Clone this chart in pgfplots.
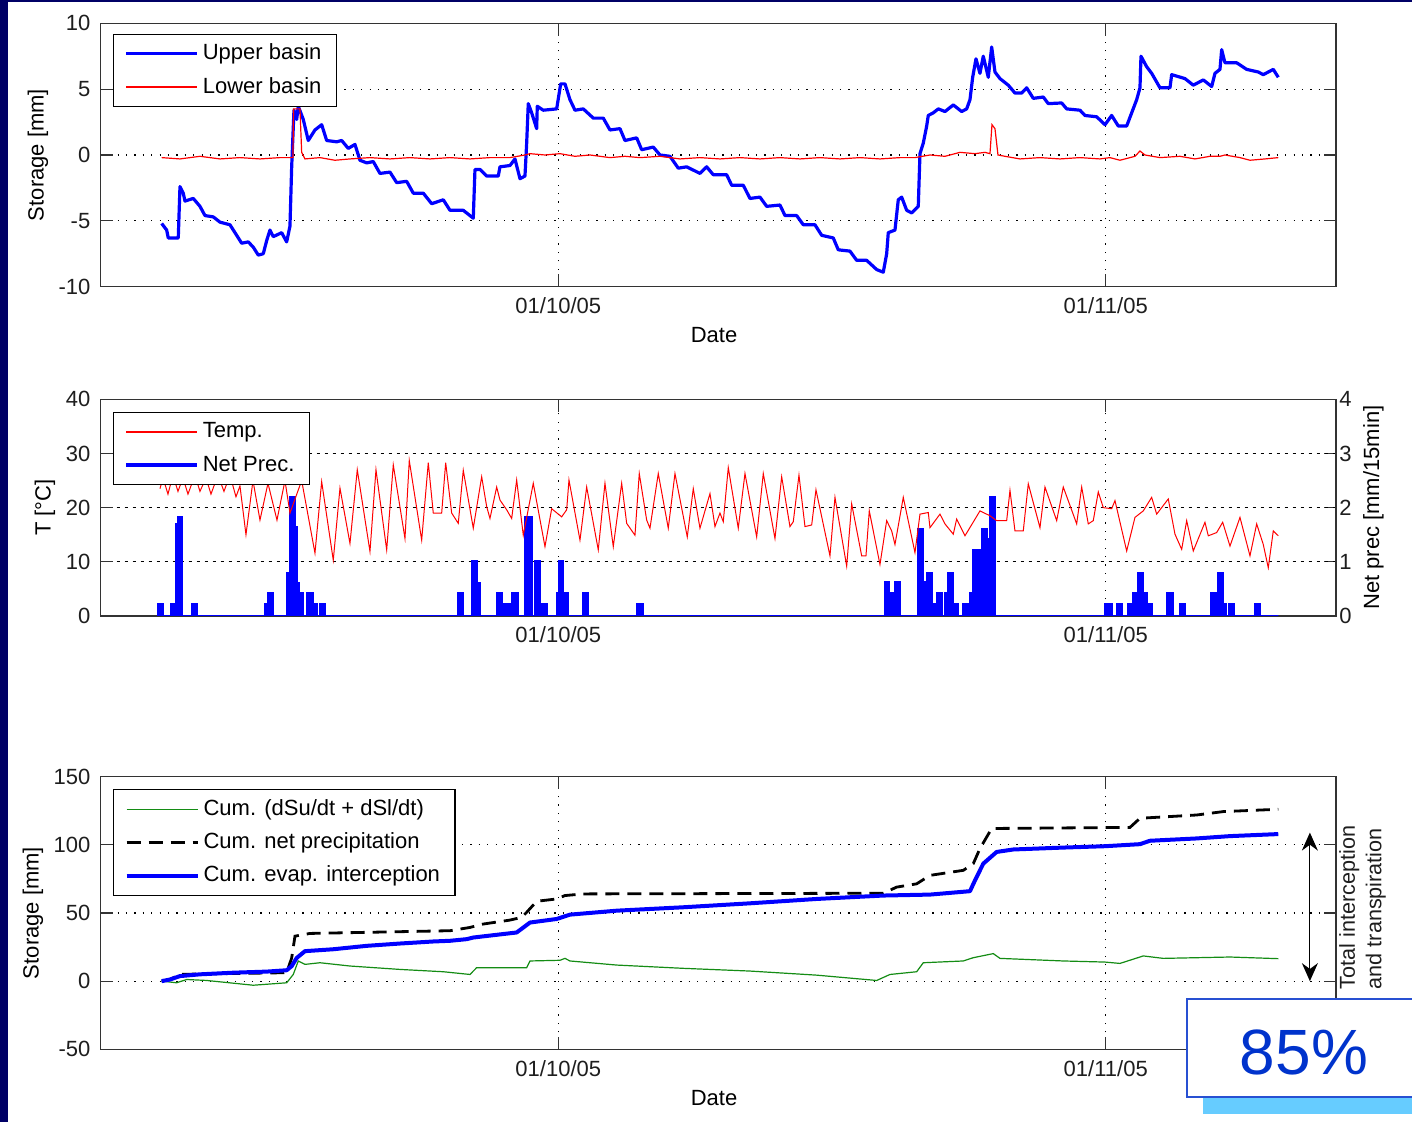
\documentclass[border=0pt]{standalone}
\usepackage{pgfplots}
\pgfplotsset{compat=1.18}
\usepackage{pgfplotstable}
\usepackage{fontspec}
\setmainfont{Liberation Sans}
\usetikzlibrary{arrows.meta}

\definecolor{navy}{RGB}{0,0,102}
\definecolor{mgreen}{RGB}{20,140,20}
\definecolor{txt}{RGB}{30,30,30}
\definecolor{pctblue}{RGB}{0,51,204}
\definecolor{boxblue}{RGB}{40,80,210}
\definecolor{shadowblue}{RGB}{102,204,255}

% x column: horizontal position (pixels), converted to days from 1 Oct 2005
\pgfplotstableread{
px v
161.7 -5.2
166.7 -5.7
168.3 -6.3
178.3 -6.3
180 -2.4
183.3 -2.9
185 -3.5
193.3 -3.3
200 -3.9
205 -4.6
213.3 -4.7
220 -5.1
230 -5.3
236.7 -6.1
241.7 -6.7
248.3 -6.6
253.3 -7.0
258.3 -7.6
263.3 -7.5
266.7 -6.5
270 -5.7
273.3 -6.2
281.7 -5.9
286.7 -6.6
290 -5.4
291.7 -0.9
294 3.4
296.7 2.7
298.3 3.7
303.3 2.7
308.3 1.1
315 1.9
321.7 2.3
326.7 1.1
336.7 1.0
341.7 1.1
348.3 0.5
355 0.8
360 -0.4
366.7 -0.6
373.3 -0.5
380 -1.4
390 -1.3
396.7 -2.1
406.7 -2.0
413.3 -2.9
423.3 -2.9
431.7 -3.7
443.3 -3.4
450 -4.2
463.3 -4.2
473.3 -4.8
475 -1.1
480 -1.1
486.7 -1.6
498.3 -1.6
500 -0.9
510 -0.8
515 -0.3
520 -1.8
525 -1.6
526.7 0.9
528.3 3.9
531.7 3.2
536.7 2.0
537.3 3.7
543.3 3.4
556.7 3.5
560.7 5.4
565 5.4
570 4.2
575 3.4
583.3 3.5
593.3 2.8
603.3 2.8
610 1.9
620 2.0
625 1.1
636.7 1.3
641.7 0.4
653.3 0.6
660 0.0
670 -0.1
678.3 -1.0
686.7 -0.9
700 -1.4
706.7 -0.9
713.3 -1.5
726.7 -1.5
731.7 -2.3
743.3 -2.3
750 -3.3
760 -3.2
766.7 -3.9
780 -3.8
785 -4.6
796.7 -4.6
803.3 -5.3
815 -5.3
821.7 -6.1
833.3 -6.3
838.3 -7.2
850 -7.3
856.7 -8.0
866.7 -8.0
876.7 -8.7
883.3 -8.9
886.7 -7.5
888.3 -5.9
895 -5.7
898.3 -3.4
901.7 -3.2
906.7 -4.2
911.7 -4.4
918.3 -3.9
920 0.1
923.3 0.9
926.7 2.2
928.3 3.0
933.3 3.2
938.3 3.5
945 3.3
953.3 3.8
961.7 3.3
966.7 3.5
970 4.2
972.7 5.9
976 7.3
980 6.2
983.3 7.5
988.3 5.9
991.7 8.2
995 6.3
1000 5.8
1008.3 5.3
1015 4.7
1021.7 4.7
1026.7 5.1
1033.3 4.3
1043.3 4.4
1048.3 3.9
1061.7 3.95
1066.7 3.5
1080 3.4
1085 3.0
1096.7 2.9
1105 2.3
1111.7 3.0
1118.3 2.2
1126.7 2.2
1131.7 3.2
1136.7 4.2
1140 5.1
1141 7.5
1146.7 6.7
1151.7 6.2
1160 5.1
1170 5.1
1171.7 6.1
1185 5.8
1193.3 5.3
1203.3 5.7
1211.7 5.2
1215 6.2
1220 6.5
1221.7 8.0
1225 7.0
1236.7 7.0
1246.7 6.5
1258.3 6.3
1263.3 6.1
1273.3 6.5
1278.3 5.9
}\tabUpper

\pgfplotstableread{
px v
161.7 -0.2
180 -0.3
200 -0.1
220 -0.3
240 -0.2
260 -0.3
280 -0.2
293 -0.2
293.5 3.5
300 3.5
301.7 0.2
305 -0.3
320 -0.2
335 -0.4
350 -0.3
370 -0.2
390 -0.3
410 -0.2
430 -0.3
450 -0.2
470 -0.3
490 -0.2
510 -0.2
525 0.0
530 0.1
545 0.0
560 0.1
575 -0.1
590 0.0
610 -0.2
625 -0.1
640 -0.2
660 -0.1
680 -0.3
700 -0.2
720 -0.3
740 -0.2
760 -0.3
780 -0.2
800 -0.3
820 -0.2
840 -0.3
860 -0.2
880 -0.3
900 -0.2
915 -0.2
930 0.0
945 -0.1
960 0.2
975 0.1
985 0.2
990 0.1
992 2.3
995 2.0
998 0.0
1005 -0.1
1020 -0.3
1040 -0.2
1060 -0.3
1080 -0.2
1100 -0.3
1110 -0.2
1120 -0.4
1135 -0.1
1140 0.3
1145 0.0
1160 -0.2
1180 -0.1
1195 -0.3
1210 -0.1
1220 -0.1
1225 0.0
1240 -0.2
1250 -0.4
1265 -0.3
1278.3 -0.2
}\tabLower

\pgfplotstableread{
px v
160 23.5
163 25.5
168 22.5
173 26
178 23
183 25.5
188 22.5
195 26
200 23
206 25.5
211 22.5
218 26
224 23
230 26
236 22
240 24
246 15.0
253 25
260 17.7
268 24.5
277 17.7
285 25
290 19
301.7 25
315 11.6
321.7 24.8
333.3 10.3
340 23.6
350 13.4
357.3 27
370 11.9
376 27
386.7 12.2
393.3 27.9
405 14.3
409.3 28.7
421.7 14.0
428.3 28.3
433.3 19.0
441.7 19
445.7 28.3
451.7 19
458.3 17.1
463.3 26.9
473.3 16.2
481.7 25.7
486.7 20.2
490 18
496.7 23.8
500 21.4
506.7 19.6
511.7 18
516.7 25.1
523.3 14.9
533.3 24.5
545 12.8
551.7 19.8
561.7 18.3
566.7 19.6
569 25.1
580 14.0
586.7 23.8
598.3 12.2
605 24.5
613.3 12.8
621.7 24.5
626.7 17.1
635 14.9
639.3 26.3
646.7 17.7
650 16.2
658.3 26.3
668.3 16.2
675 26.3
687.3 14.6
693.3 23.5
700 16.2
710 22.6
715 16.5
720 19
723.3 17.4
728.3 27.4
738.3 16.2
745 26.3
756.7 14.6
763.3 26.3
775 14.3
781.7 25.7
790 16.5
793.3 17.4
799 26.0
805 16.5
811.7 16.8
816 23.3
830 11.1
835 21.9
846.7 9.2
851.7 20.7
861.7 11.1
866 11.1
869.3 19.4
880 9.5
886.7 17.6
891.7 15.7
895 13.2
903.3 21.9
915 11.7
920 18.8
928.3 19.1
930 16.3
940 18.8
945 17
953.3 15.1
956.7 17.9
965 14.8
980 19.4
990 18.5
996.7 17.6
1006.7 17.6
1010 23.2
1015 15.7
1023.3 15.7
1028.3 24.4
1040 16.3
1045 23.8
1056.7 17.6
1063.3 23.8
1076.7 17.0
1081.7 23.8
1088.3 17.0
1093.3 17.6
1098.3 22.9
1103.3 20
1111.7 19.8
1115 21.3
1126.7 12.0
1135 18.2
1143.3 19.4
1151.7 21.9
1156.7 18.8
1168.3 21.6
1175 15.1
1181.7 12.3
1186.7 17.6
1193.3 12.0
1205 17.3
1208.3 14.8
1216.7 15.4
1222.7 17.3
1230 12.9
1240 18.2
1250 11.1
1256.7 17.0
1263.3 13.2
1268.3 8.9
1273.3 15.7
1278.3 14.8
}\tabTemp

\pgfplotstableread{
px v
158.3 0.23
163.3 0
170.7 0.23
176 1.7
178 1.83
182.3 0
191.7 0.23
196.7 0
265 0.23
268.3 0.42
272.7 0
286.7 0.79
290 2.2
295 1.65
296.7 0.6
299 0.42
303.3 0
306.7 0.42
312.7 0.23
316.7 0
320 0.23
325 0
458.3 0.42
463.3 0
472.3 1.02
476.7 0.6
480 0
496.7 0.42
501.7 0.23
512.3 0.42
517.7 0
525 1.83
531.7 0
535 1.02
540 0
541.7 0.23
546.7 0
556.7 0.42
559 1.02
563.3 0.42
567.7 0
583.3 0.42
588.3 0
636.7 0.23
642.7 0
885 0.62
889.3 0.42
893 0
895 0.62
900 0
918.3 1.6
923.3 0.62
926.7 0.8
931.7 0.22
936.7 0.42
941.7 0
945 0.42
948.3 0.8
953.3 0.22
958 0
963.3 0.22
970 0.42
973.3 1.22
980 0.42
981.7 1.6
986.7 1.42
990 2.2
995 0
1105 0.22
1111.7 0
1116.7 0.22
1121.7 0
1128.3 0.22
1133.3 0.42
1138.3 0.8
1143.3 0.42
1146.7 0.22
1151.7 0
1167.3 0.42
1173.3 0
1180 0.22
1185 0
1210.7 0.42
1215.7 0
1218.3 0.8
1223.3 0.22
1226 0
1229.3 0.22
1234 0
1255 0.22
1260 0
1278.3 0
}\tabPrec

\pgfplotstableread{
px v
161.7 0
176.7 -1.2
186.7 1.2
206.7 0.5
240 -2
253.3 -3
286.7 -1.2
293.3 4.9
298.3 14.8
305 12.3
320 13.5
350 11.1
400 8.6
443.3 6.9
470 4.9
476.7 9.9
526.7 9.9
530 14.8
560 15.3
565 16.7
570 14.8
616.7 11.8
683.3 9.4
750 7.4
816.7 4.4
876.7 0.5
890 4.9
916.7 6.9
923.3 13.5
963.3 14.8
973.3 17.2
993.3 20.2
1000 16.7
1063.3 14.8
1105 14
1120 13
1143.3 18.5
1163.3 16.7
1230 17.7
1278.3 16.5
}\tabCumDS

\pgfplotstableread{
px v
161.7 0
170 1.2
180 5
286.7 6.2
291.7 17
295 33
310 35
450 37
470 39.4
483.3 41.9
510 44.8
521.7 46.8
526.7 50.5
536.7 58.6
556.7 60.3
565 62.8
583.3 64
883.3 64.5
896.7 69
916.7 71.4
930 77.6
963.3 81.3
973.3 86.2
980 97.3
991.7 112
1130 112.8
1140 119.5
1196.7 121.9
1223.3 124.4
1278.3 126.1
}\tabCumNP

\pgfplotstableread{
px v
161.7 0
170 1.2
180 3.7
200 5
233.3 6.2
266.7 7
286.7 8
291.7 11
296.7 17
305 22
333.3 23.4
366.7 25.9
400 27.6
433.3 29.1
450 29.6
466.7 30.8
473.3 32
496.7 34
516.7 35.7
530 43
556.7 45.6
570 48.8
616.7 51.7
683.3 54.2
750 57.1
816.7 60.3
883.3 62.8
930 63.5
970 66
975 73.9
983.3 86.2
996.7 94.8
1013.3 96.6
1063.3 98
1105 99
1140 100.5
1150 103
1196.7 104.7
1230 106.4
1278.3 107.9
}\tabCumEv

\pgfplotsset{
  base/.style={
    scale only axis, width=617.65pt,
    xmin=-25.91, xmax=44.04,
    xtick={0,31}, xticklabels={01/10/05,01/11/05},
    tick align=inside, major tick length=6.2pt,
    axis line style={-, line width=0.6pt, draw=black!80},
    every tick/.style={black!80, line width=0.6pt},
    tick label style={text=txt},
    label style={text=txt},
    /pgf/number format/assume math mode=true,
    xticklabel style={anchor=center}, xticklabel shift=9.55pt,
    yticklabel style={anchor=east, inner xsep=0pt}, yticklabel shift=5pt,
    legend cell align=left,
    legend image code/.code={\draw[##1] (0pt,0pt) -- (35.5pt,0pt);},
    legend style={at={(0,1)}, anchor=north west, xshift=6.15pt, yshift=-5.2pt,
      draw, line width=0.6pt, fill=white, inner xsep=5.5pt, inner ysep=1.5pt,
      nodes={inner xsep=2pt, inner ysep=2.5pt, text height=8.8pt, text depth=2.8pt}},
  },
  dotgrid/.style={grid=major, grid style={black, line width=0.55pt, dash pattern=on 0.6pt off 3.6pt}},
}

\begin{document}
\fontsize{11}{13}\selectfont
\begin{tikzpicture}
\useasboundingbox (0,0) rectangle (706pt,561pt);
\fill[white] (0,0) rectangle (706pt,561pt);
\fill[navy] (0,0) rectangle (4pt,561pt);
\fill[navy] (0,560pt) rectangle (706pt,561pt);

% ---------------- top panel ----------------
\begin{axis}[base, dotgrid,
  at={(50.35pt,417.65pt)}, anchor=south west, height=131.7pt,
  ymin=-10, ymax=10, ytick={-10,-5,0,5,10},
  ylabel={Storage [mm]}, xlabel={Date},
  every axis y label/.style={at={(axis description cs:-0.0508,0.5)}, rotate=90, anchor=center},
  every axis x label/.style={at={(axis description cs:0.4965,-0.1834)}, anchor=center},
]
\addplot[blue, line width=1.6pt, line join=round] table[x expr={(\thisrow{px}-558.3)/17.66}, y=v] {\tabUpper};
\addlegendentry{Upper basin}
\addplot[draw=red, line width=0.6pt,
  legend image code/.code={\draw[draw=red, line width=0.8pt] (0pt,0pt) -- (35.5pt,0pt);}]
  table[x expr={(\thisrow{px}-558.3)/17.66}, y=v] {\tabLower};
\addlegendentry{Lower basin}
\end{axis}

% ---------------- middle panel: right axis ----------------
\begin{axis}[base,
  at={(50.35pt,253pt)}, anchor=south west, height=108.35pt,
  ymin=0, ymax=4, ytick={0,1,2,3,4},
  axis x line=none, axis y line*=right,
  yticklabel style={anchor=west, inner xsep=0pt}, yticklabel shift=1.5pt,
  ylabel={Net prec [mm/15min]},
  every axis y label/.style={at={(axis description cs:1.0302,0.5)}, rotate=90, anchor=center},
]
\end{axis}

% ---------------- middle panel: left axis ----------------
\begin{axis}[base, grid=major,
  x grid style={black, line width=0.55pt, dash pattern=on 0.6pt off 3.6pt},
  y grid style={black, line width=0.55pt, dash pattern=on 1.6pt off 2.4pt},
  at={(50.35pt,253pt)}, anchor=south west, height=108.35pt,
  ymin=0, ymax=40, ytick={0,10,20,30,40}, ytick pos=left,
  ylabel={T [°C]},
  every axis y label/.style={at={(axis description cs:-0.0451,0.5)}, rotate=90, anchor=center},
  legend style={yshift=-1pt},
]
\addplot[const plot, draw=blue, fill=blue, line width=1pt, forget plot]
  table[x expr={(\thisrow{px}-558.3)/17.66}, y expr={\thisrow{v}*10}] {\tabPrec} \closedcycle;
\addplot[draw=red, line width=0.5pt,
  legend image code/.code={\draw[draw=red, line width=0.8pt] (0pt,0pt) -- (35.5pt,0pt);}]
  table[x expr={(\thisrow{px}-558.3)/17.66}, y=v] {\tabTemp};
\addlegendentry{Temp.}
\addlegendimage{blue, line width=1.6pt}
\addlegendentry{Net Prec.}
\end{axis}

% ---------------- bottom panel ----------------
\begin{axis}[base, dotgrid,
  at={(50.35pt,36.35pt)}, anchor=south west, height=136.3pt,
  ymin=-50, ymax=150, ytick={-50,0,50,100,150},
  ylabel={Storage [mm]}, xlabel={Date},
  every axis y label/.style={at={(axis description cs:-0.0548,0.5)}, rotate=90, anchor=center},
  every axis x label/.style={at={(axis description cs:0.4965,-0.1786)}, anchor=center},
  legend style={yshift=-1.1pt},
]
\addplot[draw=mgreen, line width=0.6pt,
  legend image code/.code={\draw[draw=mgreen, line width=0.9pt] (0pt,0pt) -- (35.5pt,0pt);}]
  table[x expr={(\thisrow{px}-558.3)/17.66}, y=v] {\tabCumDS};
\addlegendentry{Cum. (dSu/dt + dSl/dt)}
\addplot[black, line width=1.4pt, dash pattern=on 7pt off 4pt] table[x expr={(\thisrow{px}-558.3)/17.66}, y=v] {\tabCumNP};
\addlegendentry{Cum. net precipitation}
\addplot[blue, line width=2pt, line join=round] table[x expr={(\thisrow{px}-558.3)/17.66}, y=v] {\tabCumEv};
\addlegendentry{Cum. evap. interception}
\draw[black, line width=0.6pt, {Stealth[length=9pt,width=8pt]}-{Stealth[length=9pt,width=8pt]}]
  (axis cs:42.56,0) -- (axis cs:42.56,109);
\end{axis}

\node[rotate=90, align=left, text=txt, font=\fontsize{10.8}{13.3}\selectfont]
  at (681.25pt,107.25pt) {Total interception\\and transpiration};

% 85% box
\fill[shadowblue] (601.35pt,4pt) rectangle (706pt,20pt);
\filldraw[fill=white, draw=boxblue, line width=1pt] (593.35pt,12.35pt) rectangle (707pt,61.35pt);
\node[anchor=base, text=pctblue, font=\fontsize{32}{36}\selectfont, inner sep=0pt] at (652pt,23.5pt) {85\%};
\end{tikzpicture}
\end{document}
